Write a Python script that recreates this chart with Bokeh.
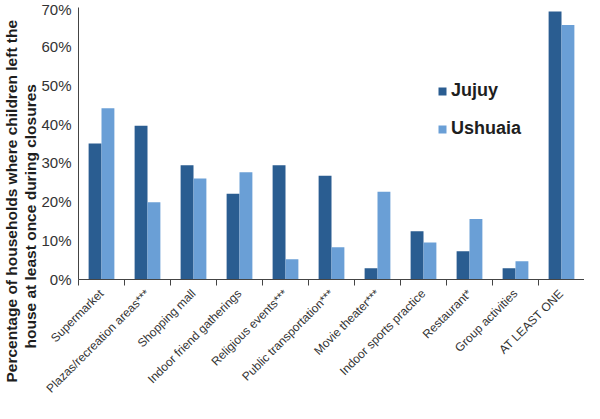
import numpy as np
from bokeh.plotting import figure
from bokeh.models import FixedTicker, Legend, LegendItem, Range1d, Title
from bokeh.embed import file_html
from bokeh.resources import INLINE

categories = ["Supermarket", "Plazas/recreation areas***", "Shopping mall",
              "Indoor friend gatherings", "Religious events***",
              "Public transportation***", "Movie theater***",
              "Indoor sports practice", "Restaurant*", "Group activities",
              "AT LEAST ONE"]
jujuy = [35.0, 39.6, 29.4, 22.1, 29.4, 26.7, 2.9, 12.4, 7.3, 2.9, 69.0]
ushuaia = [44.1, 19.9, 26.0, 27.6, 5.2, 8.3, 22.6, 9.5, 15.6, 4.7, 65.5]
y_ticks = [0, 10, 20, 30, 40, 50, 60, 70]
y_tick_labels = ["0%", "10%", "20%", "30%", "40%", "50%", "60%", "70%"]
series_names = ["Jujuy", "Ushuaia"]
y_title_lines = ["Percentage of households where children left the",
                 "house at least once during closures"]

DARK = "#2a5d91"
LIGHT = "#6a9fd6"
FONT = "Liberation Sans"

idx = np.arange(len(categories))
bar_w = 0.28

p = figure(width=584, height=403, output_backend="svg", toolbar_location=None,
           x_range=Range1d(-0.5, len(categories) - 0.5), y_range=Range1d(0, 70),
           min_border_left=76, min_border_right=0, min_border_top=7,
           min_border_bottom=110)
p.outline_line_color = None
p.xgrid.visible = False
p.ygrid.visible = False

r1 = p.vbar(x=idx - bar_w / 2, top=jujuy, width=bar_w, fill_color=DARK, line_color=None)
r2 = p.vbar(x=idx + bar_w / 2, top=ushuaia, width=bar_w, fill_color=LIGHT, line_color=None)

# x axis: labels at category centres, tick marks between categories
xa = p.xaxis[0]
xa.ticker = FixedTicker(ticks=list(idx), minor_ticks=list(np.arange(-0.5, len(categories), 1.0)))
xa.major_label_overrides = {int(i): c for i, c in zip(idx, categories)}
xa.major_label_orientation = np.pi / 4
xa.major_tick_out = 0
xa.major_tick_in = 0
xa.minor_tick_out = 6
xa.minor_tick_in = 0
xa.minor_tick_line_color = "#444444"
xa.axis_line_color = "#444444"
xa.major_label_text_font = FONT
xa.major_label_text_font_size = "12px"
xa.major_label_text_color = "#333333"
xa.major_label_standoff = 6

# y axis
ya = p.yaxis[0]
ya.ticker = FixedTicker(ticks=y_ticks)
ya.major_label_overrides = {t: l for t, l in zip(y_ticks, y_tick_labels)}
ya.major_tick_out = 0
ya.major_tick_in = 0
ya.minor_tick_out = 0
ya.minor_tick_in = 0
ya.axis_line_color = "#444444"
ya.major_label_text_font = FONT
ya.major_label_text_font_size = "15px"
ya.major_label_text_color = "#333333"
ya.major_label_standoff = 7

# y title: two lines, added inner line first
for txt, off in [(y_title_lines[1], -69), (y_title_lines[0], -103)]:
    p.add_layout(Title(text=txt, align="left", offset=off, standoff=0,
                       text_font=FONT, text_font_size="15.5px", text_font_style="bold",
                       text_color="#1e1e1e"), "left")

legend = Legend(items=[LegendItem(label=series_names[0], renderers=[r1]),
                       LegendItem(label=series_names[1], renderers=[r2])],
                location=(359, 140), padding=0, margin=0, spacing=17,
                glyph_width=10, glyph_height=10, label_height=20,
                label_standoff=4, label_text_font=FONT, label_text_font_size="18px",
                label_text_font_style="bold", label_text_color="#1e1e1e",
                border_line_color=None, background_fill_alpha=0)
p.add_layout(legend)

open("out.html", "w").write(file_html(p, INLINE))
